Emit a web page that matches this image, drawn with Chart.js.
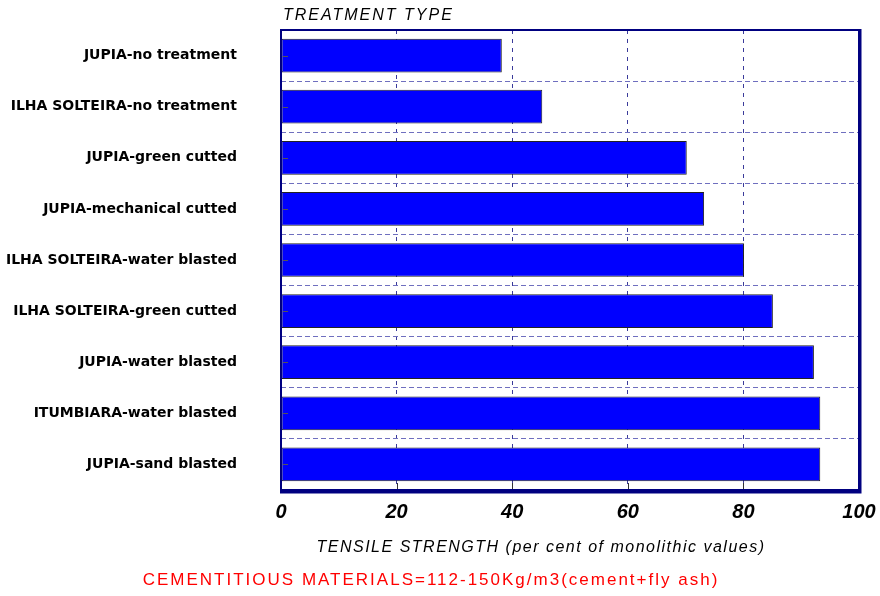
<!DOCTYPE html>
<html>
<head>
<meta charset="utf-8">
<script src="https://cdn.jsdelivr.net/npm/chart.js@4.4.1/dist/chart.umd.min.js"></script>
<style>
  html, body { margin: 0; padding: 0; background: #fff; }
  canvas { display: block; }
</style>
</head>
<body>
<canvas id="tensileChart" width="880" height="596"></canvas>
<script>
const treatments = [
  "JUPIA-no treatment",
  "ILHA SOLTEIRA-no treatment",
  "JUPIA-green cutted",
  "JUPIA-mechanical cutted",
  "ILHA SOLTEIRA-water blasted",
  "ILHA SOLTEIRA-green cutted",
  "JUPIA-water blasted",
  "ITUMBIARA-water blasted",
  "JUPIA-sand blasted",
];
const tensileValues = [38.2, 45.2, 70.2, 73.2, 80.1, 85.1, 92.2, 93.3, 93.3];
const xTicks = [0, 20, 40, 60, 80, 100];

const FONT = "'Liberation Sans', Arial, sans-serif";

// frame, small tick marks and the captions
const framePlugin = {
  id: "frame",
  afterDatasetsDraw(chart) {
    const { ctx, chartArea: a, scales } = chart;
    ctx.save();
    // tick marks on the left edge, one per category
    ctx.strokeStyle = "#555";
    ctx.lineWidth = 1;
    treatments.forEach((t, i) => {
      const y = Math.round(scales.y.getPixelForValue(i)) + 0.5;
      ctx.beginPath();
      ctx.moveTo(a.left + 2, y);
      ctx.lineTo(a.left + 7, y);
      ctx.stroke();
    });
    // tick marks on the bottom edge
    ctx.strokeStyle = "#333";
    xTicks.slice(1, -1).forEach((v) => {
      const x = Math.round(scales.x.getPixelForValue(v)) + 0.5;
      ctx.beginPath();
      ctx.moveTo(x, a.bottom - 7);
      ctx.lineTo(x, a.bottom);
      ctx.stroke();
    });
    // navy border
    ctx.strokeStyle = "#000080";
    ctx.lineWidth = 2;
    ctx.strokeRect(a.left, a.top, a.right - a.left, a.bottom - a.top);
    ctx.lineWidth = 3;
    ctx.beginPath();
    ctx.moveTo(a.right + 1, a.top - 1);
    ctx.lineTo(a.right + 1, a.bottom + 2);
    ctx.lineTo(a.left - 1, a.bottom + 2);
    ctx.stroke();

    ctx.textBaseline = "middle";
    // caption above the plot
    ctx.fillStyle = "#000";
    ctx.font = "italic 16px " + FONT;
    ctx.letterSpacing = "2px";
    ctx.textAlign = "left";
    ctx.fillText("TREATMENT TYPE", a.left + 2, 16);
    // axis title
    ctx.letterSpacing = "1.5px";
    ctx.textAlign = "center";
    ctx.fillText("TENSILE STRENGTH (per cent of monolithic values)", 541, a.bottom + 58);
    // red caption
    ctx.fillStyle = "#ff0000";
    ctx.font = "17px " + FONT;
    ctx.letterSpacing = "2px";
    ctx.fillText("CEMENTITIOUS MATERIALS=112-150Kg/m3(cement+fly ash)", 431, a.bottom + 90);
    ctx.restore();
  },
};

new Chart(document.getElementById("tensileChart"), {
  type: "bar",
  data: {
    labels: treatments,
    datasets: [
      {
        data: tensileValues,
        backgroundColor: "#0000ff",
        borderColor: "#222222",
        borderWidth: 1,
        borderSkipped: false,
        barPercentage: 0.66,
        categoryPercentage: 1,
      },
    ],
  },
  options: {
    indexAxis: "y",
    responsive: false,
    animation: false,
    layout: { padding: { top: 30, right: 21, bottom: 70, left: 0 } },
    plugins: {
      legend: { display: false },
      tooltip: { enabled: false },
      title: { display: false },
    },
    scales: {
      x: {
        min: 0,
        max: 100,
        afterBuildTicks: (s) => {
          s.ticks = xTicks.map((v) => ({ value: v }));
        },
        grid: {
          color: "#3a3a9a",
          lineWidth: 1,
          drawTicks: true,
          tickLength: 8,
          tickColor: "rgba(0,0,0,0)",
        },
        border: { display: false, dash: [4, 5] },
        ticks: {
          color: "#000",
          padding: 2,
          font: { family: FONT, size: 20, weight: "bold", style: "italic" },
        },
      },
      y: {
        afterFit: (s) => {
          s.width = 281;
        },
        grid: {
          color: "#6f6fbf",
          lineWidth: 1,
          drawTicks: true,
          tickLength: 40,
          tickColor: "rgba(0,0,0,0)",
          offset: true,
        },
        border: { display: false, dash: [5, 3] },
        ticks: {
          color: "#000",
          padding: 4,
          font: { family: "'DejaVu Sans', sans-serif", size: 14, weight: "bold" },
        },
      },
    },
  },
  plugins: [framePlugin],
});
</script>
</body>
</html>
